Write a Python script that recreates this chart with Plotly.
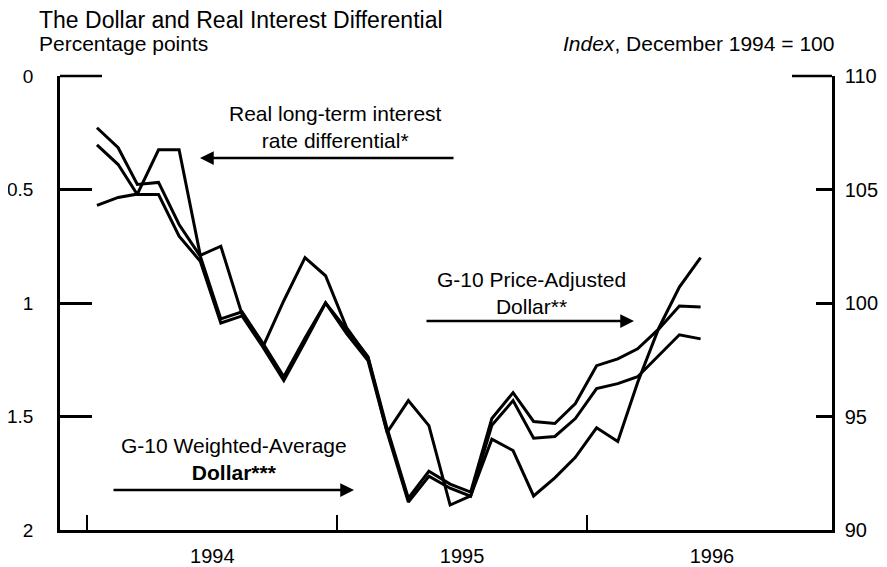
import plotly.graph_objects as go

months = ["1994-01-15", "1994-02-15", "1994-03-15", "1994-04-15", "1994-05-15", "1994-06-15",
          "1994-07-15", "1994-08-15", "1994-09-15", "1994-10-15", "1994-11-15", "1994-12-15",
          "1995-01-15", "1995-02-15", "1995-03-15", "1995-04-15", "1995-05-15", "1995-06-15",
          "1995-07-15", "1995-08-15", "1995-09-15", "1995-10-15", "1995-11-15", "1995-12-15",
          "1996-01-15", "1996-02-15", "1996-03-15", "1996-04-15", "1996-05-15", "1996-06-15"]

# Real long-term interest rate differential (percentage points, left inverted scale)
interest_diff = [0.57, 0.535, 0.52, 0.325, 0.325, 0.79, 0.75, 1.05, 1.19, 0.99, 0.80, 0.88,
                 1.11, 1.24, 1.57, 1.43, 1.54, 1.89, 1.85, 1.60, 1.65, 1.85, 1.77, 1.68,
                 1.55, 1.61, 1.35, 1.11, 0.93, 0.80]

# G-10 Price-Adjusted Dollar (index, Dec 1994 = 100)
price_adjusted = [107.72, 106.84, 105.22, 105.31, 103.46, 102.06, 99.30, 99.61, 98.20, 96.75, 98.46, 100.0,
                  98.82, 97.63, 94.47, 91.40, 92.59, 92.02, 91.67, 94.91, 96.05, 94.78, 94.69, 95.57,
                  97.24, 97.54, 97.98, 98.86, 99.87, 99.82]

# G-10 Weighted-Average Dollar (index, Dec 1994 = 100)
weighted_avg = [106.97, 106.10, 104.78, 104.78, 102.94, 101.84, 99.12, 99.43, 98.03, 96.58, 98.29, 100.0,
                98.64, 97.46, 94.30, 91.23, 92.37, 91.84, 91.49, 94.61, 95.70, 94.04, 94.12, 94.91,
                96.23, 96.45, 96.75, 97.68, 98.60, 98.42]

left_ticks = [0, 0.5, 1, 1.5, 2]
left_labels = ["0", "0.5", "1", "1.5", "2"]
right_ticks = [90, 95, 100, 105, 110]
right_labels = ["90", "95", "100", "105", "110"]

FONT = "Liberation Sans, Arial, sans-serif"
LW = 3

fig = go.Figure()
fig.add_trace(go.Scatter(x=months, y=interest_diff, mode="lines", yaxis="y",
                         line=dict(color="black", width=LW), name="Real long-term interest rate differential"))
fig.add_trace(go.Scatter(x=months, y=price_adjusted, mode="lines", yaxis="y2",
                         line=dict(color="black", width=LW), name="G-10 Price-Adjusted Dollar"))
fig.add_trace(go.Scatter(x=months, y=weighted_avg, mode="lines", yaxis="y2",
                         line=dict(color="black", width=LW), name="G-10 Weighted-Average Dollar"))

# page has an 8px body margin: size the figure so it ends exactly at the window edge
OFF = 8
PAGE_W, PAGE_H = 887, 567
W, H = PAGE_W - OFF, PAGE_H - OFF
# plot area in page pixels
X0, X1, Y0, Y1 = 60, 832, 76, 530
ML, MR, MT, MB = X0 - OFF, PAGE_W - X1, Y0 - OFF, PAGE_H - Y1
PW, PH = X1 - X0, Y1 - Y0


def px(x):
    return (x - X0) / PW


def py(y):
    return 1 - (y - Y0) / PH


fig.update_layout(
    width=W, height=H,
    margin=dict(l=ML, r=MR, t=MT, b=MB, autoexpand=False),
    plot_bgcolor="white", paper_bgcolor="white",
    showlegend=False,
    font=dict(family=FONT, color="black", size=20),
    xaxis=dict(
        type="date", range=["1993-11-22", "1996-12-24"],
        tick0="1994-01-01", dtick="M12", ticklabelmode="period", tickformat="%Y",
        ticks="inside", ticklen=15, tickwidth=2, tickcolor="black",
        showline=True, linecolor="black", linewidth=2.5, mirror=False,
        showgrid=False, zeroline=False, ticklabelstandoff=6, automargin=False,
        tickfont=dict(size=20, family=FONT),
    ),
    yaxis=dict(
        range=[2, 0], tickvals=left_ticks, ticktext=left_labels,
        ticks="inside", ticklen=32, tickwidth=2.5, tickcolor="black",
        showline=True, linecolor="black", linewidth=2.5,
        showgrid=False, zeroline=False, ticklabelstandoff=20, automargin=False,
        tickfont=dict(size=19, family=FONT),
    ),
    yaxis2=dict(
        range=[90, 110], tickvals=right_ticks, ticktext=right_labels,
        overlaying="y", side="right",
        ticks="inside", ticklen=16, tickwidth=2.5, tickcolor="black",
        showline=True, linecolor="black", linewidth=2.5,
        showgrid=False, zeroline=False, ticklabelstandoff=6, automargin=False,
        tickfont=dict(size=20, family=FONT),
    ),
)

# partial top frame segments at corners
fig.add_shape(type="line", xref="paper", yref="paper", x0=0, x1=px(102), y0=1, y1=1,
              line=dict(color="black", width=2.5))
fig.add_shape(type="line", xref="paper", yref="paper", x0=px(792), x1=1, y0=1, y1=1,
              line=dict(color="black", width=2.5))

ann = []
# title and axis unit labels
ann.append(dict(text="The Dollar and Real Interest Differential", x=px(37), y=py(20),
                xanchor="left", yanchor="middle", font=dict(size=23)))
ann.append(dict(text="Percentage points", x=px(37), y=py(44),
                xanchor="left", yanchor="middle", font=dict(size=21)))
ann.append(dict(text="<i>Index</i>, December 1994 = 100", x=px(836), y=py(44),
                xanchor="right", yanchor="middle", font=dict(size=21)))

# series labels (two-line blocks)
ann.append(dict(text="Real long-term interest<br>rate differential*", x=px(335), y=py(127),
                xanchor="center", yanchor="middle", font=dict(size=21)))
ann.append(dict(text="G-10 Price-Adjusted<br>Dollar**", x=px(531), y=py(293),
                xanchor="center", yanchor="middle", font=dict(size=21)))
ann.append(dict(text="G-10 Weighted-Average<br><b>Dollar***</b>", x=px(234), y=py(459),
                xanchor="center", yanchor="middle", font=dict(size=21)))

for a in ann:
    a.update(xref="paper", yref="paper", showarrow=False)

# arrows
arrows = [
    dict(x=px(200), y=py(158), ax=255, ay=0),
    dict(x=px(634), y=py(321), ax=-209, ay=0),
    dict(x=px(354), y=py(490), ax=-242, ay=0),
]
for a in arrows:
    a.update(xref="paper", yref="paper", text="", showarrow=True, arrowhead=2,
             arrowsize=1.1, arrowwidth=2.5, arrowcolor="black")
    ann.append(a)

fig.update_layout(annotations=ann)

fig.write_html("out.html")
